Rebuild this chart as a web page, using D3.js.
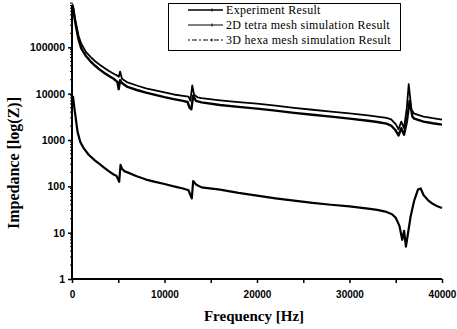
<!DOCTYPE html>
<html>
<head>
<meta charset="utf-8">
<script src="https://cdn.jsdelivr.net/npm/d3@7"></script>
<style>
  body { margin: 0; background: #fff; }
  svg { display: block; }
</style>
</head>
<body>
<div id="chart"></div>
<script>
// frequency (Hz) / impedance values
const tetraFreq = [50, 150, 300, 500, 700, 1000, 1500, 2000, 2500, 3000, 3500, 4000, 4500, 4900, 5050, 5200, 5400, 6000, 7000, 8000, 9000, 10000, 11000, 12000, 12600, 12800, 13000, 13200, 13600, 14000, 16000, 18000, 20000, 22000, 24000, 26000, 28000, 30000, 32000, 33000, 34000, 34500, 35000, 35300, 35600, 35900, 36200, 36400, 36700, 37000, 38000, 39000, 40000];
const tetraZ = [850000, 700000, 450000, 280000, 180000, 120000, 80000, 62000, 50000, 42000, 36000, 31000, 27000, 24500, 23000, 30000, 21000, 17500, 15000, 13000, 11800, 10600, 9600, 9000, 8600, 7000, 15000, 9500, 8300, 8000, 7200, 6600, 6100, 5500, 4950, 4500, 4100, 3750, 3400, 3200, 3000, 2800, 2200, 1700, 2500, 1800, 5000, 16000, 4500, 3700, 3200, 2950, 2750];

const expFreq = [50, 150, 300, 500, 700, 1000, 1500, 2000, 2500, 3000, 3500, 4000, 4500, 4900, 5050, 5200, 5400, 6000, 7000, 8000, 9000, 10000, 11000, 12000, 12500, 12700, 12900, 13100, 13400, 14000, 16000, 18000, 20000, 22000, 24000, 26000, 28000, 30000, 32000, 33000, 34000, 34500, 35000, 35300, 35600, 35900, 36200, 36500, 36800, 37000, 38000, 39000, 40000];
const expZ = [800000, 650000, 400000, 240000, 150000, 95000, 65000, 50000, 40000, 33000, 28000, 24000, 21000, 18000, 12500, 19500, 17000, 14000, 12000, 10500, 9400, 8400, 7600, 7000, 6600, 5000, 4600, 9000, 7000, 6500, 5700, 5200, 4750, 4300, 3850, 3500, 3200, 2900, 2600, 2450, 2250, 2050, 1600, 1250, 1800, 1300, 2500, 7000, 3200, 2900, 2500, 2300, 2150];

const hexaFreq = [100, 250, 400, 600, 900, 1300, 1800, 2500, 3000, 3500, 4000, 4500, 4800, 5000, 5100, 5250, 5400, 5700, 6000, 7000, 8000, 9000, 10000, 11000, 12000, 12600, 12800, 12950, 13100, 13400, 14000, 16000, 18000, 20000, 22000, 24000, 26000, 28000, 30000, 32000, 33000, 34000, 34600, 35000, 35400, 35700, 35900, 36100, 36300, 36600, 37000, 37400, 37700, 38000, 38500, 39000, 39500, 40000];
const hexaZ = [9000, 5000, 3000, 1500, 900, 650, 480, 360, 300, 250, 210, 180, 170, 140, 125, 290, 240, 210, 200, 165, 140, 125, 112, 100, 90, 82, 65, 55, 130, 110, 95, 85, 72, 63, 55, 49, 44, 40, 37, 33, 31, 28, 25, 21, 14, 7, 11, 5, 9, 22, 50, 85, 90, 65, 50, 42, 37, 34];

const xTickValues = [0, 10000, 20000, 30000, 40000];
const yTickValues = [1, 10, 100, 1000, 10000, 100000];
const legendLabels = ["Experiment Result", "2D tetra mesh simulation Result", "3D hexa mesh simulation Result"];

const width = 457;
const height = 329;
const margin = { top: 1, right: 15, bottom: 50, left: 72 };

const svg = d3.select("#chart").append("svg")
    .attr("width", width)
    .attr("height", height);

const x = d3.scaleLinear()
    .domain([0, 40000])
    .range([margin.left, width - margin.right]);

const y = d3.scaleLog()
    .domain([1, 1000000])
    .range([height - margin.bottom, margin.top]);

// x axis
svg.append("g")
    .attr("transform", `translate(0,${height - margin.bottom})`)
    .call(d3.axisBottom(x).tickValues(d3.range(0, 40001, 5000)).tickSize(4).tickFormat(d => xTickValues.includes(d) ? d : ""))
    .call(g => g.select(".domain").attr("stroke-width", 2).attr("d", `M${margin.left},0H${width - margin.right}`))
    .call(g => g.selectAll(".tick line").attr("stroke-width", 1.5))
    .call(g => g.selectAll(".tick text")
        .attr("font-family", "Liberation Sans, Arial, sans-serif")
        .attr("font-weight", "bold")
        .attr("font-size", 10)
        .attr("dy", "1.2em"));

// y axis
const minor = [];
for (let e = 0; e < 6; e++) for (let k = 2; k < 10; k++) minor.push(k * Math.pow(10, e));

svg.append("g")
    .attr("transform", `translate(${margin.left},0)`)
    .call(d3.axisLeft(y).tickValues(yTickValues).tickSize(4).tickFormat(d3.format("d")))
    .call(g => g.select(".domain").attr("stroke-width", 2).attr("d", `M0,${height - margin.bottom}V${margin.top + 4}`))
    .call(g => g.selectAll(".tick line").attr("stroke-width", 1.5))
    .call(g => g.selectAll(".tick text")
        .attr("font-family", "Liberation Sans, Arial, sans-serif")
        .attr("font-weight", "bold")
        .attr("font-size", 10.5)
        .attr("x", -7));

svg.append("g")
    .selectAll("line")
    .data(minor)
    .join("line")
    .attr("x1", margin.left - 2)
    .attr("x2", margin.left + 1)
    .attr("y1", d => y(d))
    .attr("y2", d => y(d))
    .attr("stroke", "#000")
    .attr("stroke-width", 1);

// curves
const line = d3.line()
    .x(d => x(d[0]))
    .y(d => y(d[1]));

const series = [
    { f: tetraFreq, z: tetraZ, w: 1.8 },
    { f: expFreq, z: expZ, w: 2.4 },
    { f: hexaFreq, z: hexaZ, w: 2.2 }
];

series.forEach(s => {
    svg.append("path")
        .datum(d3.zip(s.f, s.z))
        .attr("fill", "none")
        .attr("stroke", "#000")
        .attr("stroke-width", s.w)
        .attr("stroke-linejoin", "round")
        .attr("d", line);
});

// legend
const legend = svg.append("g");
legend.append("rect")
    .attr("x", 168.5)
    .attr("y", 3.5)
    .attr("width", 232)
    .attr("height", 47)
    .attr("fill", "#fff")
    .attr("stroke", "#000")
    .attr("stroke-width", 1);

const dashes = [null, null, "2,2,5,2"];
legendLabels.forEach((t, i) => {
    const ly = 10 + i * 15;
    legend.append("line")
        .attr("x1", 188).attr("x2", 223)
        .attr("y1", ly).attr("y2", ly)
        .attr("stroke", "#000")
        .attr("stroke-width", i == 0 ? 1.6 : 1.1)
        .attr("stroke-dasharray", dashes[i]);
    legend.append("line")
        .attr("x1", 212).attr("x2", 212)
        .attr("y1", ly - 1.5).attr("y2", ly + 1.5)
        .attr("stroke", "#000");
    legend.append("text")
        .attr("x", 226)
        .attr("y", ly + 4)
        .attr("font-family", "Liberation Serif, Times New Roman, serif")
        .attr("font-size", 12)
        .attr("letter-spacing", 0.3)
        .text(t);
});

// axis titles
svg.append("text")
    .attr("x", 254)
    .attr("y", 321)
    .attr("text-anchor", "middle")
    .attr("font-family", "Liberation Serif, Times New Roman, serif")
    .attr("font-weight", "bold")
    .attr("font-size", 15)
    .text("Frequency [Hz]");

svg.append("text")
    .attr("transform", "translate(19,163) rotate(-90)")
    .attr("text-anchor", "middle")
    .attr("font-family", "Liberation Serif, Times New Roman, serif")
    .attr("font-weight", "bold")
    .attr("font-size", 16)
    .text("Impedance [log(Z)]");
</script>
</body>
</html>
